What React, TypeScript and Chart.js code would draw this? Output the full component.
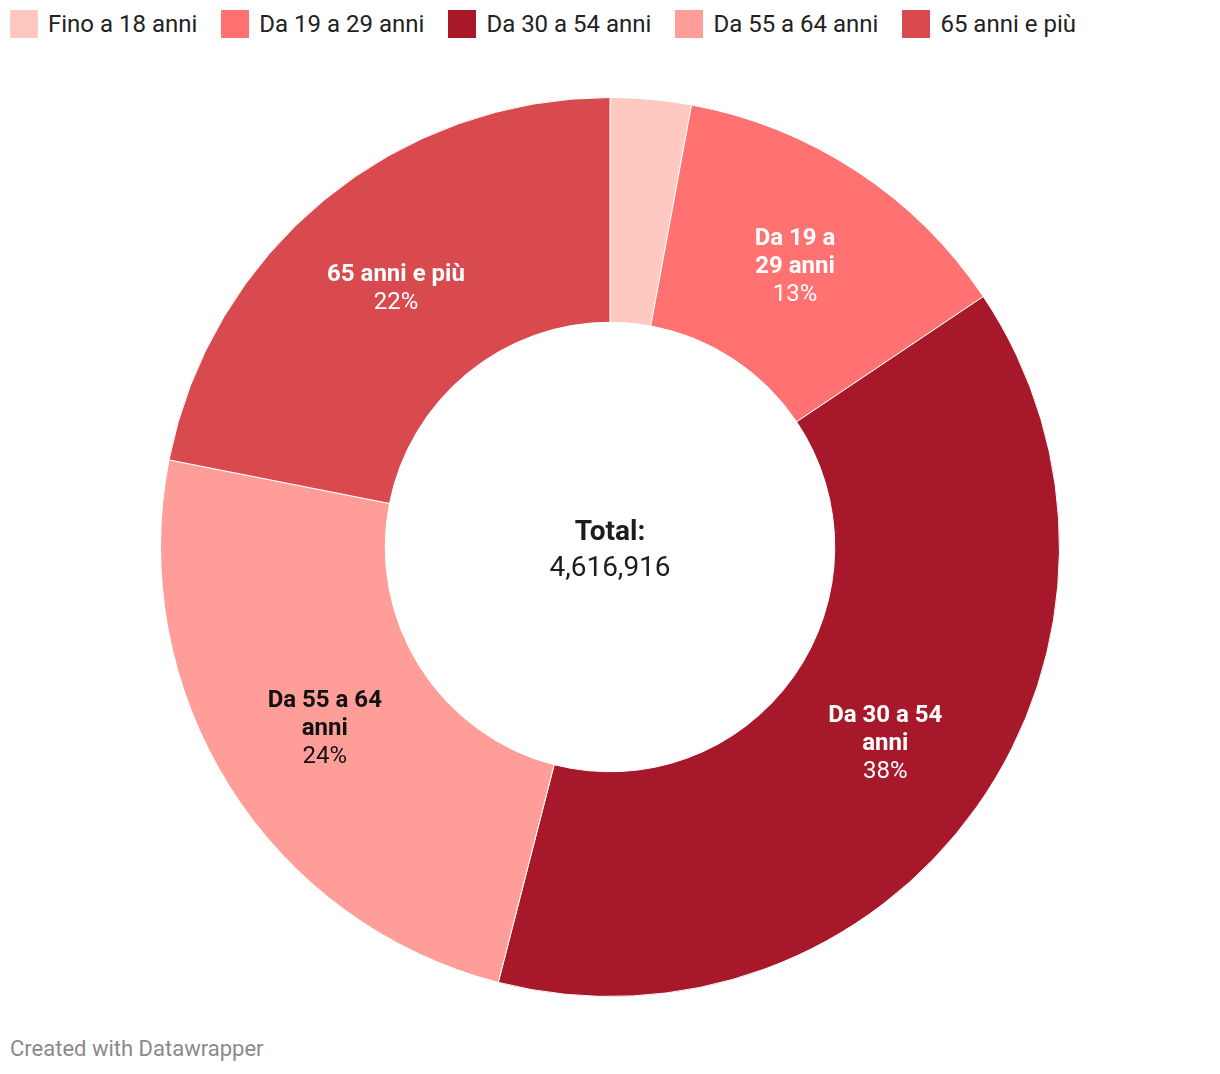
import React, { useEffect, useRef } from "react";
import { Chart, registerables } from "chart.js";

Chart.register(...registerables);

const categories = ["Fino a 18 anni", "Da 19 a 29 anni", "Da 30 a 54 anni", "Da 55 a 64 anni", "65 anni e più"];
const values = [134000, 586000, 1773000, 1113000, 1010916];
const colors = ["#ffc8c0", "#ff7271", "#a8182b", "#ff9e98", "#d94a4f"];
const sliceLabelLines = [[], ["Da 19 a", "29 anni"], ["Da 30 a 54", "anni"], ["Da 55 a 64", "anni"], ["65 anni e più"]];
const sliceLabelColors = ["#ffffff", "#ffffff", "#ffffff", "#111111", "#ffffff"];

const FONT = "Roboto, 'Noto Sans', sans-serif";

const sliceLabelPlugin = {
  id: "sliceLabels",
  afterDatasetsDraw(chart: any) {
    const ctx = chart.ctx;
    const meta = chart.getDatasetMeta(0);
    const total = values.reduce((a, b) => a + b, 0);
    meta.data.forEach((arc: any, i: number) => {
      const lines = sliceLabelLines[i];
      if (!lines || lines.length === 0) return;
      const p = arc.getProps(["startAngle", "endAngle", "innerRadius", "outerRadius", "x", "y"], true);
      const mid = (p.startAngle + p.endAngle) / 2;
      const r = (p.innerRadius + p.outerRadius) / 2;
      const cx = p.x + Math.cos(mid) * r;
      const cy = p.y + Math.sin(mid) * r + 2;
      const all = [...lines, Math.round((values[i] / total) * 100) + "%"];
      const lh = 28;
      const startY = cy - ((all.length - 1) * lh) / 2;
      ctx.save();
      ctx.textAlign = "center";
      ctx.textBaseline = "middle";
      ctx.fillStyle = sliceLabelColors[i];
      all.forEach((t, k) => {
        const isPct = k === all.length - 1;
        ctx.font = (isPct ? "400 " : "700 ") + "24px " + FONT;
        ctx.fillText(t, cx, startY + k * lh);
      });
      ctx.restore();
    });
    const c0 = meta.data[0];
    ctx.save();
    ctx.textAlign = "center";
    ctx.textBaseline = "middle";
    ctx.fillStyle = "#1d1d1d";
    ctx.font = "700 28px " + FONT;
    ctx.fillText("Total:", c0.x, c0.y - 14);
    ctx.font = "400 28px " + FONT;
    ctx.fillText(total.toLocaleString("en-US"), c0.x, c0.y + 22);
    ctx.restore();
  },
};

export default function App() {
  const ref = useRef<HTMLCanvasElement>(null);
  useEffect(() => {
    const chart = new Chart(ref.current!, {
      type: "doughnut",
      data: {
        labels: categories,
        datasets: [
          {
            data: values,
            backgroundColor: colors,
            borderColor: "#ffffff",
            borderWidth: 1,
          },
        ],
      },
      options: {
        animation: false,
        responsive: false,
        maintainAspectRatio: false,
        cutout: "50%",
        layout: { padding: 0 },
        plugins: { legend: { display: false }, tooltip: { enabled: false } },
      },
      plugins: [sliceLabelPlugin],
    });
    return () => chart.destroy();
  }, []);

  return (
    <div style={{ position: "fixed", left: 0, top: 0, width: 1220, height: 1074, background: "#fff", fontFamily: FONT }}>
      <div style={{ position: "absolute", left: 10, top: 10, display: "flex", alignItems: "center", height: 28 }}>
        {categories.map((c, i) => (
          <div key={c} style={{ display: "flex", alignItems: "center", marginRight: 24 }}>
            <div style={{ width: 28, height: 28, background: colors[i], marginRight: 10 }} />
            <span style={{ fontSize: 24, color: "#222", whiteSpace: "nowrap" }}>{c}</span>
          </div>
        ))}
      </div>
      <canvas ref={ref} width={900} height={900} style={{ position: "absolute", left: 160, top: 97, width: 900, height: 900 }} />
      <div style={{ position: "absolute", left: 10, top: 1036, fontSize: 22, color: "#8a8a8a" }}>Created with Datawrapper</div>
    </div>
  );
}
